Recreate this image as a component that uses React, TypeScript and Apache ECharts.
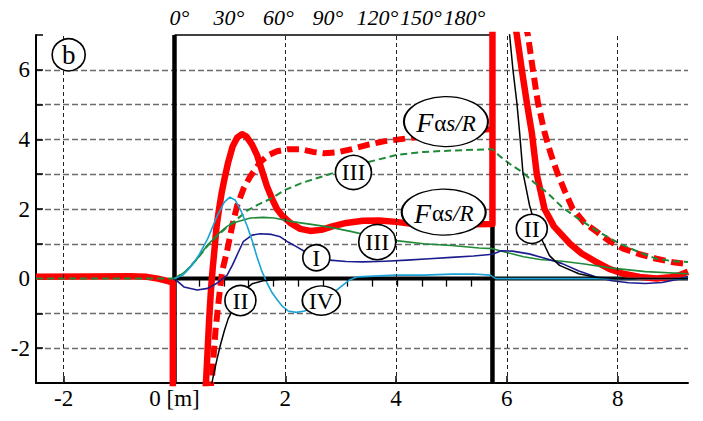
import React, { useEffect, useRef } from "react";
import * as echarts from "echarts";

// axis extents (metres along the track, force ratio)
const xRange = [-2.5, 9.27];
const yRange = [-3, 7];
const xTicks = [-2, 0, 2, 4, 6, 8];
const xGridLines = [-2, 2, 4, 6, 8];

// curve angle scale on the upper axis
const angleTicks = [0, 15, 30, 45, 60, 75, 90, 105, 120, 135, 150, 165, 180];
const angleLabels = [0, 30, 60, 90, 120, 150, 180];
const metresPerDegree = 5.36 / 180;
const curveEnd = 5.74; // start of the straight section

// F alpha s/R, solid
const redSolidLeft = [[-2.5, 0.05], [-1.5, 0.06], [-0.8, 0.07], [-0.5, 0.05], [-0.3, 0.0], [-0.1, -0.08], [-0.03, -0.12], [-0.03, -3.3]];
const redSolidMid = [
  [0.555, -3.3], [0.57, -2.95], [0.6, -2.0], [0.63, -1.05], [0.66, -0.3], [0.69, 0.3], [0.72, 0.8], [0.76, 1.5],
  [0.8, 1.95], [0.85, 2.45], [0.9, 2.85], [0.97, 3.35], [1.05, 3.8], [1.13, 4.05], [1.22, 4.15], [1.3, 4.08],
  [1.4, 3.85], [1.49, 3.55], [1.58, 3.1], [1.67, 2.65], [1.76, 2.3], [1.85, 2.0], [1.95, 1.8], [2.09, 1.6],
  [2.27, 1.43], [2.45, 1.37], [2.65, 1.4], [2.85, 1.5], [3.1, 1.6], [3.4, 1.66], [3.7, 1.67], [4.0, 1.63],
  [4.25, 1.58], [4.6, 1.55], [5.0, 1.55], [5.4, 1.56], [5.74, 1.57], [5.74, 7.3],
];
const redSolidRight = [
  [6.15, 7.3], [6.18, 7.0], [6.27, 6.0], [6.36, 5.06], [6.45, 4.2], [6.54, 3.0], [6.68, 2.0], [6.85, 1.5],
  [7.14, 1.0], [7.35, 0.72], [7.6, 0.49], [7.85, 0.28], [8.1, 0.14], [8.4, 0.05], [8.7, 0.0], [8.95, 0.04],
  [9.1, 0.09], [9.27, 0.2],
];

// F alpha s/R, dashed
const redDashedMid = [
  [0.64, -3.3], [0.68, -2.8], [0.74, -1.5], [0.8, -0.6], [0.86, 0.2], [0.95, 0.8], [1.04, 1.5], [1.13, 2.09],
  [1.25, 2.6], [1.37, 2.94], [1.55, 3.35], [1.7, 3.55], [1.85, 3.66], [2.05, 3.72], [2.27, 3.72], [2.5, 3.64],
  [2.7, 3.6], [2.95, 3.63], [3.2, 3.72], [3.5, 3.85], [3.8, 3.95], [4.3, 4.05], [4.8, 4.15], [5.3, 4.25], [5.74, 4.3],
];
const redDashedRight = [
  [6.33, 7.3], [6.38, 7.0], [6.47, 6.0], [6.56, 5.06], [6.68, 4.2], [6.8, 3.55], [6.92, 3.0], [7.05, 2.5],
  [7.19, 2.0], [7.4, 1.6], [7.6, 1.37], [7.85, 1.08], [8.1, 0.86], [8.4, 0.7], [8.7, 0.57], [9.0, 0.47], [9.27, 0.42],
];

// component III, dashed
const greenDashedLeft = [[-2.5, 0], [0, 0]];
const greenDashed = [
  [0, 0], [0.2, 0.2], [0.4, 0.55], [0.6, 0.95], [0.8, 1.27], [1.0, 1.55], [1.13, 1.71], [1.31, 1.95], [1.5, 2.12],
  [1.73, 2.29], [2.0, 2.55], [2.3, 2.75], [2.5, 2.85], [3.0, 3.1], [3.5, 3.35], [4.0, 3.55], [4.5, 3.64],
  [5.0, 3.68], [5.4, 3.7], [5.74, 3.72], [5.87, 3.52], [6.05, 3.3], [6.29, 3.05], [6.5, 2.75], [6.72, 2.48],
  [7.0, 2.05], [7.3, 1.71], [7.65, 1.35], [8.04, 1.0], [8.4, 0.75], [8.7, 0.57], [9.0, 0.5], [9.27, 0.48],
];
// component III, solid
const greenSolid = [
  [0, 0], [0.2, 0.2], [0.4, 0.55], [0.59, 0.95], [0.8, 1.3], [0.95, 1.5], [1.1, 1.62], [1.37, 1.74], [1.6, 1.76],
  [1.8, 1.74], [2.15, 1.63], [2.5, 1.55], [2.8, 1.48], [3.2, 1.35], [3.6, 1.2], [4.0, 1.09], [4.5, 1.0], [5.0, 0.95],
  [5.5, 0.88], [5.74, 0.86], [6.0, 0.75], [6.3, 0.63], [6.6, 0.55], [7.0, 0.5], [7.4, 0.42], [7.9, 0.3], [8.5, 0.2], [9.27, 0.14],
];
// component I
const navy = [
  [0, 0], [0.17, -0.24], [0.41, -0.33], [0.6, -0.28], [0.75, -0.15], [0.95, 0.1], [1.05, 0.4], [1.15, 0.75],
  [1.24, 1.06], [1.4, 1.25], [1.55, 1.29], [1.75, 1.27], [1.91, 1.2], [2.05, 1.05], [2.2, 0.92], [2.35, 0.78],
  [2.56, 0.62], [2.8, 0.53], [3.1, 0.49], [3.4, 0.48], [3.8, 0.5], [4.2, 0.53], [4.6, 0.57], [5.0, 0.61], [5.4, 0.65],
  [5.74, 0.7], [5.9, 0.8], [6.1, 0.79], [6.4, 0.71], [6.7, 0.58], [7.0, 0.43], [7.3, 0.22], [7.6, 0.05], [7.9, -0.06],
  [8.2, -0.12], [8.5, -0.14], [8.8, -0.11], [9.05, -0.03], [9.27, 0.05],
];
// component IV
const cyan = [
  [0, 0], [0.15, 0.1], [0.3, 0.35], [0.45, 0.7], [0.6, 1.15], [0.77, 1.8], [0.9, 2.2], [1.0, 2.34], [1.1, 2.25],
  [1.2, 1.95], [1.31, 1.52], [1.4, 1.1], [1.49, 0.62], [1.58, 0.2], [1.67, -0.12], [1.76, -0.4], [1.85, -0.6],
  [1.95, -0.8], [2.05, -0.93], [2.2, -0.97], [2.35, -0.93], [2.55, -0.78], [2.8, -0.5], [3.0, -0.24], [3.15, -0.05],
  [3.3, 0.05], [3.6, 0.07], [4.0, 0.1], [4.5, 0.1], [5.0, 0.13], [5.4, 0.13], [5.7, 0.1], [5.8, 0.0], [6.0, 0.0], [9.27, 0.0],
];
// component II
const blackLeft = [
  [0.64, -3.3], [0.7, -2.8], [0.77, -2.3], [0.83, -1.9], [0.9, -1.5], [0.97, -1.15], [1.1, -0.75], [1.25, -0.35],
  [1.4, -0.15], [1.6, -0.06], [1.9, -0.02], [2.3, 0],
];
const blackRight = [
  [6.03, 7.3], [6.05, 7.0], [6.11, 6.0], [6.18, 5.06], [6.23, 4.2], [6.29, 3.05], [6.41, 2.1], [6.5, 1.6],
  [6.65, 1.06], [6.77, 0.66], [6.95, 0.38], [7.3, 0.14], [7.6, 0.04], [8.0, 0], [9.27, 0],
];

// reference lines: start and end of the curve, zero level, upper frame
const startLine = [[0, -3], [0, 7]];
const endLine = [[curveEnd, -3], [curveEnd, 7]];
const zeroLine = [[0, 0], [9.27, 0]];
const topFrame = [[0, 7], [curveEnd, 7]];

// tags placed on the curves
const tagTexts = ["III", "III", "I", "II", "IV", "II", "F", "F", "b"];
const tagAnchors = [[3.23, 3.05], [3.66, 1.05], [2.56, 0.6], [1.19, -0.63], [2.65, -0.63], [6.45, 1.43], [4.9, 4.51], [4.86, 1.91], [-1.91, 6.43]];
const tagSizes = [[36, 34], [37, 35], [27, 26], [31, 30], [38, 29], [31, 29], [84, 50], [84, 46], [33, 32]];

const SERIF = "'Liberation Serif', 'Times New Roman', serif";

function line(data: number[][], color: string, width: number, type: any = "solid", z = 3, extra: any = {}) {
  return {
    type: "line",
    data,
    showSymbol: false,
    symbol: "none",
    silent: true,
    z,
    clip: true,
    lineStyle: { color, width, type, cap: "butt", join: "round" },
    ...extra,
  };
}

export default function App() {
  const ref = useRef<HTMLDivElement>(null);

  useEffect(() => {
    if (!ref.current) return;
    const chart = echarts.init(ref.current, null, { renderer: "svg" });

    const tagData = tagTexts.map((t, i) => {
      const isF = t === "F";
      return {
        value: tagAnchors[i],
        symbolSize: tagSizes[i],
        label: {
          show: true,
          position: "inside",
          formatter: isF ? "{f|F}{a|α}{s|s/R}" : t,
          color: "#000",
          fontFamily: SERIF,
          fontSize: t === "b" ? 27 : 24,
          rich: {
            f: { fontFamily: SERIF, fontStyle: "italic", fontSize: 28, color: "#000", verticalAlign: "top", lineHeight: 26 },
            a: { fontFamily: SERIF, fontSize: 23, color: "#000", verticalAlign: "bottom", lineHeight: 20, padding: [10, 0, 0, 1] },
            s: { fontFamily: SERIF, fontStyle: "italic", fontSize: 23, color: "#000", verticalAlign: "bottom", lineHeight: 20, padding: [10, 0, 0, 0] },
          },
        },
      };
    });

    const topStyle = { fontFamily: SERIF, fontStyle: "italic", fontSize: 22, color: "#000" };

    const option: any = {
      animation: false,
      backgroundColor: "#fff",
      grid: { left: 36, right: 15, top: 35, bottom: 38, containLabel: false },
      xAxis: [
        {
          type: "value",
          min: xRange[0],
          max: xRange[1],
          position: "bottom",
          axisLine: { show: true, onZero: false, lineStyle: { color: "#000", width: 2 } },
          axisTick: { show: true, inside: true, length: 7, customValues: xTicks, lineStyle: { color: "#000", width: 1.5 } },
          axisLabel: {
            show: true,
            customValues: xTicks,
            formatter: (v: number) => (v === 0 ? "0 [m]" : String(v)),
            fontFamily: SERIF,
            fontSize: 23,
            color: "#000",
            margin: 4,
          },
          splitLine: { show: false },
        },
        {
          type: "value",
          min: xRange[0],
          max: xRange[1],
          position: "top",
          axisLine: { show: false },
          axisTick: {
            show: true,
            inside: true,
            length: 8,
            customValues: angleTicks.map((d) => d * metresPerDegree),
            lineStyle: { color: "#000", width: 1.3 },
          },
          axisLabel: {
            show: true,
            hideOverlap: false,
            customValues: angleLabels.map((d) => d * metresPerDegree),
            formatter: (v: number) => {
              const d = Math.round(v / metresPerDegree);
              if (d === 150) return `{l|${d}°}`;
              if (d === 180) return `{m|${d}°}`;
              return `{n|${d}°}`;
            },
            rich: {
              n: { ...topStyle, padding: [0, 0, 0, 10] },
              l: { ...topStyle, padding: [0, 2, 0, 0] },
              m: { ...topStyle, padding: [0, 14, 0, 0] },
            },
            margin: 7,
          },
          splitLine: { show: false },
        },
      ],
      yAxis: {
        type: "value",
        min: yRange[0],
        max: yRange[1],
        interval: 1,
        axisLine: { show: true, onZero: false, lineStyle: { color: "#000", width: 2 } },
        axisTick: { show: true, inside: true, length: 7, lineStyle: { color: "#000", width: 1.5 } },
        axisLabel: {
          formatter: (v: number) => (v % 2 === 0 && v < 7 ? String(v) : ""),
          fontFamily: SERIF,
          fontSize: 23,
          color: "#000",
          margin: 6,
        },
        splitLine: {
          show: true,
          showMinLine: false,
          showMaxLine: false,
          lineStyle: { color: "#6b6b6b", width: 1.4, type: [6, 3] },
        },
      },
      series: [
        line(startLine, "#000", 4.5, "solid", 2, {
          clip: false,
          markLine: {
            silent: true,
            symbol: ["none", "none"],
            label: { show: false },
            lineStyle: { color: "#222", width: 1, type: [4, 3] },
            data: xGridLines.map((x) => ({ xAxis: x })),
          },
        }),
        line(endLine, "#000", 4.5, "solid", 2, { clip: false }),
        line(zeroLine, "#000", 4, "solid", 2, { clip: false }),
        line(topFrame, "#000", 1.5, "solid", 2, { clip: false }),

        line(redDashedMid, "#ff0000", 6, [12, 6], 3),
        line(redDashedRight, "#ff0000", 6, [12, 6], 3),
        line(redSolidLeft, "#ff0000", 6.5, "solid", 3),
        line(redSolidMid, "#ff0000", 6.5, "solid", 3),
        line(redSolidRight, "#ff0000", 6.5, "solid", 3),

        line(greenDashed, "#1f8a38", 2, [7, 4], 4),
        line(greenSolid, "#1f8a38", 1.6, "solid", 4),
        line(navy, "#1c1c8e", 1.6, "solid", 4),
        line(cyan, "#1aa3d4", 1.6, "solid", 4),
        line(blackLeft, "#000", 1.5, "solid", 4),
        line(blackRight, "#000", 1.5, "solid", 4),
        line(greenDashedLeft, "#1f8a38", 2, [7, 4], 4),

        {
          type: "scatter",
          symbol: "circle",
          z: 10,
          silent: true,
          itemStyle: { color: "#fff", borderColor: "#000", borderWidth: 1.6, opacity: 1 },
          data: tagData,
        },
      ],
    };

    chart.setOption(option);
    return () => chart.dispose();
  }, []);

  return <div ref={ref} style={{ position: "absolute", left: 0, top: 0, width: 703, height: 421 }} />;
}
